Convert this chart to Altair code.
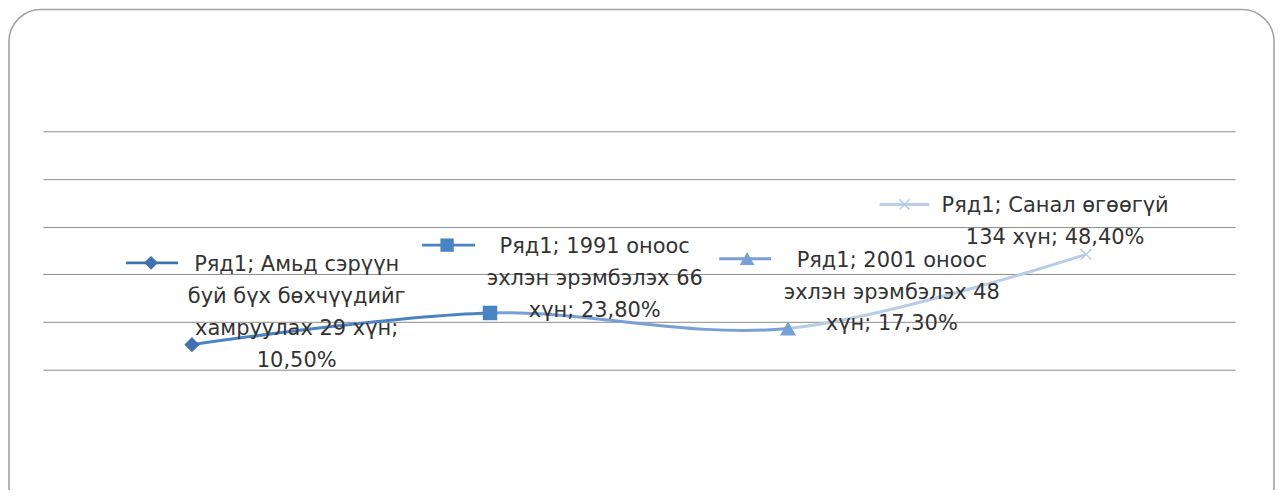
import altair as alt
import pandas as pd

# ---- data ----
categories = [
    "Амьд сэрүүн буй бүх бөхчүүдийг хамруулах",
    "1991 оноос эхлэн эрэмбэлэх",
    "2001 оноос эхлэн эрэмбэлэх",
    "Санал өгөөгүй",
]
people = [29, 66, 48, 134]
percent_values = [10.5, 23.8, 17.3, 48.4]
label_texts = [
    "Ряд1; Амьд сэрүүн\nбуй бүх бөхчүүдийг\nхамруулах 29 хүн;\n10,50%",
    "Ряд1; 1991 оноос\nэхлэн эрэмбэлэх 66\nхүн; 23,80%",
    "Ряд1; 2001 оноос\nэхлэн эрэмбэлэх 48\nхүн; 17,30%",
    "Ряд1; Санал өгөөгүй\n134 хүн; 48,40%",
]
y_ticks = [0, 20, 40, 60, 80, 100]

# ---- styles ----
marker_colors = ["#3f72ae", "#4a83c4", "#77a0d6", "#b9cde6"]
marker_shapes = ["diamond", "square", "triangle-up", "M-1,-1L1,1M1,-1L-1,1"]
marker_filled = [True, True, True, False]
marker_sizes = [230, 210, 260, 120]
FONT = "DejaVu Sans"
FS = 21
LH = 32
TEXT_COLOR = "#333333"

# label placement (pixel offsets from each point)
text_dx = [105, 105, 104, -31]
text_dy = [-91, -77, -79, -59]
key_dx = [(-66, -14), (-68, -15), (-69, -17), (-207, -157)]
key_mk = [-41, -43, -41, -182]
key_dy = [-82, -68, -70, -50]

df = pd.DataFrame({
    "cat": categories,
    "people": people,
    "pct": percent_values,
    "label": label_texts,
})

W, H = 1195, 239
xenc = alt.X("cat:N", sort=categories, scale=alt.Scale(type="point", padding=0.5), axis=None)
yenc = alt.Y("pct:Q", scale=alt.Scale(domain=[0, 100], nice=False),
             axis=alt.Axis(values=y_ticks, labels=False, ticks=False, domain=False,
                           title=None, grid=True, gridColor="#8c8c8c", gridWidth=1, gridOpacity=1))

base = alt.Chart(df)

border = alt.Chart(pd.DataFrame({"a": [0]})).mark_rect(
    fillOpacity=0, stroke="#a3a3a3", strokeWidth=1.6, cornerRadius=32
).encode(x=alt.value(-34), x2=alt.value(1234), y=alt.value(-122), y2=alt.value(440))

grad = alt.Gradient(
    gradient="linear", x1=0, x2=1, y1=0, y2=0,
    stops=[
        alt.GradientStop(offset=0, color=marker_colors[1]),
        alt.GradientStop(offset=0.333, color=marker_colors[1]),
        alt.GradientStop(offset=0.334, color=marker_colors[2]),
        alt.GradientStop(offset=0.666, color=marker_colors[2]),
        alt.GradientStop(offset=0.667, color=marker_colors[3]),
        alt.GradientStop(offset=1, color=marker_colors[3]),
    ],
)

line = base.mark_line(interpolate="cardinal", tension=0, strokeWidth=3, stroke=grad).encode(
    x=xenc, y=yenc
)

layers = [border, line]

for i in range(len(categories)):
    one = alt.Chart(df.iloc[[i]])
    layers.append(
        one.mark_point(shape=marker_shapes[i], filled=marker_filled[i], size=marker_sizes[i],
                       color=marker_colors[i], opacity=1, strokeWidth=1.5).encode(x=xenc, y="pct:Q")
    )
    layers.append(
        one.mark_rule(xOffset=key_dx[i][0], x2Offset=key_dx[i][1], yOffset=key_dy[i],
                      y2Offset=key_dy[i], strokeWidth=3, color=marker_colors[i]).encode(
            x=xenc, x2="cat:N", y="pct:Q")
    )
    layers.append(
        one.mark_point(shape=marker_shapes[i], filled=marker_filled[i], size=marker_sizes[i] * 0.85,
                       color=marker_colors[i], opacity=1, strokeWidth=1.5,
                       xOffset=key_mk[i], yOffset=key_dy[i]).encode(x=xenc, y="pct:Q")
    )
    layers.append(
        one.mark_text(align="center", baseline="top", dx=text_dx[i], dy=text_dy[i],
                      lineBreak="\n", lineHeight=LH, font=FONT, fontSize=FS,
                      color=TEXT_COLOR).encode(x=xenc, y="pct:Q", text="label:N")
    )

chart = alt.layer(*layers).properties(
    width=W, height=H,
    padding={"left": 35, "top": 123, "right": 40, "bottom": 120},
    autosize=alt.AutoSizeParams(type="none"),
).configure_view(stroke=None)

chart.save("out.html", embed_options={"renderer": "svg", "actions": False})
